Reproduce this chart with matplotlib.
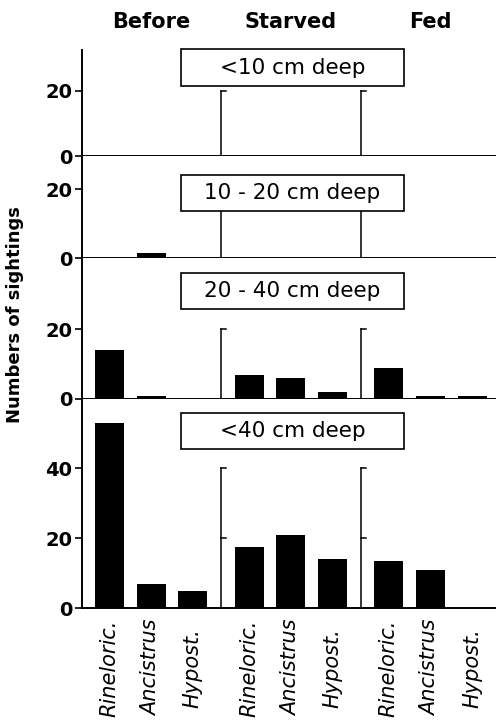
import numpy as np
import matplotlib.pyplot as plt
import matplotlib.transforms as mtransforms
from matplotlib.patches import Rectangle

# --- datos ---
grupos = ['Before', 'Starved', 'Fed']
especies = ['Rineloric.', 'Ancistrus', 'Hypost.']
paneles = ['<10 cm deep', '10 - 20 cm deep', '20 - 40 cm deep', '<40 cm deep']
# orden: Before(R, A, H), Starved(R, A, H), Fed(R, A, H)
p_10 = [0, 0, 0, 0, 0, 0, 0, 0, 0]
p_10_20 = [0, 1.5, 0, 0, 0, 0, 0, 0, 0]
p_20_40 = [14, 1, 0, 7, 6, 2, 9, 1, 1]
p_40 = [53, 7, 5, 17.5, 21, 14, 13.5, 11, 0]
valores = [p_10, p_10_20, p_20_40, p_40]

# --- layout (pixeles de la figura 496x720) ---
W, H = 496, 720
x_izq, x_der = 82, 496
# (arriba, cero, px por unidad) de cada panel
filas = [(50, 156, 3.25), (156, 258, 3.435), (258, 399, 3.49), (399, 608, 3.5)]
cajas = [(49, 86), (175, 211), (273, 309), (413, 449)]
paso_grupo = 3.35
xpos = np.array([g * paso_grupo + i for g in range(3) for i in range(3)])
sep = [2 + (paso_grupo - 2) / 2, paso_grupo + 2 + (paso_grupo - 2) / 2]

fig = plt.figure(figsize=(W / 100, H / 100), dpi=100)

axes = []
for k, (top, zero, ppu) in enumerate(filas):
    ax = fig.add_axes([x_izq / W, 1 - zero / H, (x_der - x_izq) / W, (zero - top) / H])
    ax.set_xlim(-0.66, 9.27)
    ax.set_ylim(0, (zero - top) / ppu)
    ax.bar(xpos, valores[k], width=0.7, color='black', zorder=3)
    for s in ['top', 'right']:
        ax.spines[s].set_visible(False)
    ax.spines['left'].set_linewidth(1.4)
    ax.spines['bottom'].set_linewidth(1.4)
    ymax_sep = 40 if k == 3 else 20
    marcas = [20, 40] if k == 3 else [20]
    # separadores entre grupos, con marcas hacia dentro
    for xs in sep:
        ax.plot([xs, xs], [0, ymax_sep], color='black', lw=1.1, zorder=2)
        for m in marcas:
            ax.plot([xs, xs + 0.12], [m, m], color='black', lw=1.1, zorder=2)
    ax.set_yticks([0] + marcas)
    ax.tick_params(axis='y', length=5, width=1.2, pad=2, labelsize=14)
    for t in ax.get_yticklabels():
        t.set_fontweight('bold')
    ax.set_xticks([])
    axes.append(ax)

# etiquetas de especies bajo el ultimo panel
tr = mtransforms.blended_transform_factory(axes[3].transData, fig.transFigure)
for x, nombre in zip(xpos, especies * 3):
    fig.text(x, 1 - 668 / H, nombre, transform=tr, rotation=90, ha='center', va='center',
             fontsize=15, fontstyle='italic', family='DejaVu Sans')

# encabezados de grupo
tr0 = mtransforms.blended_transform_factory(axes[0].transData, fig.transFigure)
for g, nombre in enumerate(grupos):
    fig.text(g * paso_grupo + 1, 1 - 22 / H, nombre, transform=tr0, ha='center', va='center',
             fontsize=15, fontweight='bold')

# cajas con la profundidad
for (y0, y1), txt in zip(cajas, paneles):
    fig.add_artist(Rectangle((181 / W, 1 - y1 / H), 223 / W, (y1 - y0) / H,
                             transform=fig.transFigure, facecolor='white',
                             edgecolor='black', lw=1.2, zorder=5))
    fig.text(292.5 / W, 1 - (y0 + y1) / 2 / H, txt, ha='center', va='center',
             fontsize=15.5, zorder=6)

fig.text(15 / W, 1 - 315 / H, 'Numbers of sightings', rotation=90, ha='center', va='center',
         fontsize=13, fontweight='bold')

fig.savefig('out.png', dpi=100)
